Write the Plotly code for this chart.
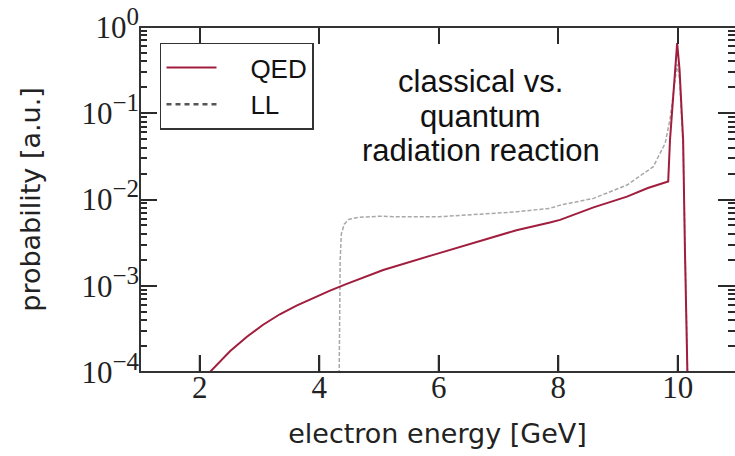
import plotly.graph_objects as go

# Electron energy spectra after the collision (probability, arbitrary units)
qed_energy = [2.12, 2.17, 2.51, 2.79, 3.06, 3.34, 3.62, 3.90, 4.18, 4.46, 5.07, 5.91,
              6.75, 7.30, 7.86, 8.03, 8.59, 9.15, 9.50, 9.82, 9.84, 9.87, 9.94, 9.99,
              10.03, 10.09, 10.12, 10.15, 10.17]
qed_prob = [8.0e-5, 1.0e-4, 1.75e-4, 2.56e-4, 3.53e-4, 4.67e-4, 5.88e-4, 7.21e-4, 8.77e-4,
            1.05e-3, 1.52e-3, 2.28e-3, 3.4e-3, 4.4e-3, 5.4e-3, 5.8e-3, 8.1e-3, 0.0108,
            0.0136, 0.0158, 0.0162, 0.049, 0.21, 0.65, 0.32, 0.049, 2.6e-3, 3.1e-4, 5e-5]

ll_energy = [4.33, 4.34, 4.35, 4.37, 4.42, 4.50, 4.65, 5.00, 5.35, 6.00, 6.47, 7.30,
             7.86, 8.03, 8.59, 9.15, 9.59, 9.79, 9.87, 9.94, 9.99, 10.03, 10.09, 10.15, 10.17]
ll_prob = [5e-5, 3e-4, 2e-3, 4.0e-3, 5.2e-3, 5.9e-3, 6.2e-3, 6.4e-3, 6.3e-3, 6.3e-3,
           6.6e-3, 7.2e-3, 7.9e-3, 8.6e-3, 0.0103, 0.0147, 0.024, 0.045, 0.085, 0.2,
           0.37, 0.25, 0.04, 3e-4, 5e-5]

x_ticks = [2, 4, 6, 8, 10]
y_ticks = [1e-4, 1e-3, 1e-2, 1e-1, 1]
y_exponents = ["−4", "−3", "−2", "−1", "0"]
y_minor = [m * 10.0 ** e for e in range(-4, 0) for m in range(2, 10)]

annotation_lines = ["classical vs.", "quantum", "radiation reaction"]

RED = "#a11d3d"
AXIS = "#333333"
TICK = "#2a2a2a"
SERIF = "Liberation Serif"
SANS = "DejaVu Sans"
PAD = "\u00a0" * 4
PLOT_H = 456 - 27 - 84
TICK_LEN = 17

y_tick_text = ['10<sup><span style="font-size:25px">%s</span></sup>' % e
               for e in y_exponents]

fig = go.Figure()

fig.add_trace(go.Scatter(
    x=ll_energy, y=ll_prob, mode="lines", name="LL", showlegend=False,
    line=dict(color="#a8a8a8", width=1.5, dash="4px,2px"),
))
fig.add_trace(go.Scatter(
    x=qed_energy, y=qed_prob, mode="lines", name=PAD + "QED", legendrank=1,
    line=dict(color=RED, width=2),
))
# legend entry for the LL curve, drawn darker than the curve itself
fig.add_trace(go.Scatter(
    x=[None], y=[None], mode="lines", name=PAD + "LL", legendrank=2,
    line=dict(color="#555555", width=2.5, dash="5px,4px"),
))

fig.update_layout(
    width=735, height=456,
    margin=dict(l=140, r=0, t=27, b=84, pad=0),
    paper_bgcolor="white", plot_bgcolor="white",
    xaxis=dict(
        range=[1, 10.958], tickmode="array", tickvals=x_ticks,
        ticks="inside", ticklen=TICK_LEN, tickwidth=2, tickcolor=TICK,
        showline=False, mirror="ticks", ticklabelstandoff=-6,
        showgrid=False, zeroline=False, automargin=True,
        tickfont=dict(family=SERIF, size=31, color="#222222"),
        title=dict(text="electron energy [GeV]", standoff=20,
                   font=dict(family=SANS, size=27, color="#222222")),
    ),
    yaxis=dict(
        type="log", range=[-4, 0], tickmode="array", tickvals=y_ticks,
        ticktext=y_tick_text, ticks="inside", ticklen=TICK_LEN, tickwidth=2,
        tickcolor=TICK, showline=False, mirror="ticks",
        showgrid=False, zeroline=False, automargin=True,
        minor=dict(tickmode="array", tickvals=y_minor, ticks="inside",
                   ticklen=7, tickwidth=1.5, tickcolor=TICK, showgrid=False),
        tickfont=dict(family=SERIF, size=31, color="#222222"),
        title=dict(text="probability [a.u.]", standoff=32,
                   font=dict(family=SANS, size=27, color="#222222")),
    ),
    legend=dict(
        x=0.0336, y=0.955, xanchor="left", yanchor="top",
        bgcolor="white", bordercolor=AXIS, borderwidth=1.5,
        font=dict(family="Liberation Sans", size=26, color="#111111"),
        itemwidth=50,
    ),
    showlegend=True,
)

# plot frame; its right edge lies just past the canvas
fig.add_shape(type="rect", xref="paper", yref="paper", x0=0, x1=1.01, y0=0, y1=1,
              line=dict(color=AXIS, width=2), layer="above")

# inward tick marks along the bottom edge of the frame
for v in x_ticks:
    fig.add_shape(type="line", xref="x", yref="paper", x0=v, x1=v,
                  y0=0, y1=TICK_LEN / PLOT_H, line=dict(color=TICK, width=2),
                  layer="above")

for text, ypos in zip(annotation_lines, [0.8406, 0.742, 0.643]):
    fig.add_annotation(
        text=text, xref="paper", yref="paper", x=0.573, y=ypos,
        xanchor="center", yanchor="middle", showarrow=False,
        font=dict(family="Liberation Sans", size=31, color="#111111"),
    )

fig.write_html("out.html")
